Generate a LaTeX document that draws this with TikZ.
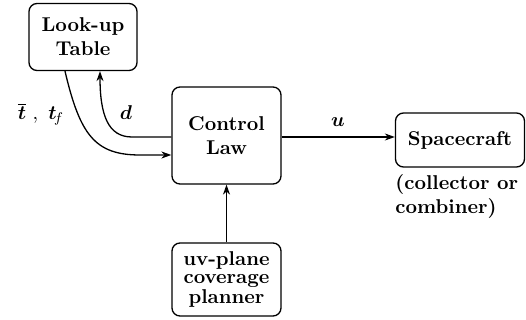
\documentclass[tikz,border=0pt]{standalone}
\usepackage{bm}
\usetikzlibrary{arrows.meta}
\begin{document}
\begin{tikzpicture}[x=0.5pt,y=-0.5pt,
  blk/.style={draw,line width=0.65pt,rounded corners=4pt,align=center,font=\bfseries,inner sep=1pt},
  conn/.style={line width=0.65pt,-{Stealth[length=5pt,width=3.5pt]}},
  lbl/.style={inner sep=0pt}]
\useasboundingbox (0,0) rectangle (526,320);
\node[blk,minimum width=54pt,minimum height=33.5pt] (lut) at (83,37)
  {\baselineskip=11.5pt Look-up\\Table};
\node[blk,minimum width=54.5pt,minimum height=48.5pt] (cl) at (226.5,135.5)
  {Control\\Law};
\node[blk,minimum width=64.5pt,minimum height=27pt] (sc) at (460,140)
  {Spacecraft};
\node[blk,minimum width=54.5pt,minimum height=36.5pt,font=\bfseries\fontsize{10}{8.8}\selectfont] (uv) at (226.5,279.5)
  {uv-plane\\coverage\\planner};
\node[lbl,anchor=north west,align=left,font=\bfseries] (note) at (395,174)
  {(collector or\\combiner)};
\node[lbl] (ulbl) at (338,122) {$\bm{u}$};
\node[lbl] (dlbl) at (126,113) {$\bm{d}$};
\node[lbl] (tlbl) at (41,114) {$\overline{\bm{t}}\ ,\ \bm{t}_{\!f}$};
\draw[conn] (cl.east |- 0,137) -- (sc.west |- 0,137);
\draw[conn] (uv.north) -- (cl.south);
\draw[conn] ([xshift=-9pt]lut.south) .. controls (80,135) and (95,155) .. (140,155) -- ([yshift=-9.75pt]cl.west);
\draw[conn] ([yshift=-0.75pt]cl.west) -- (132,137) .. controls (108,137) and (100,115) .. ([xshift=8.5pt]lut.south);
\end{tikzpicture}
\end{document}
